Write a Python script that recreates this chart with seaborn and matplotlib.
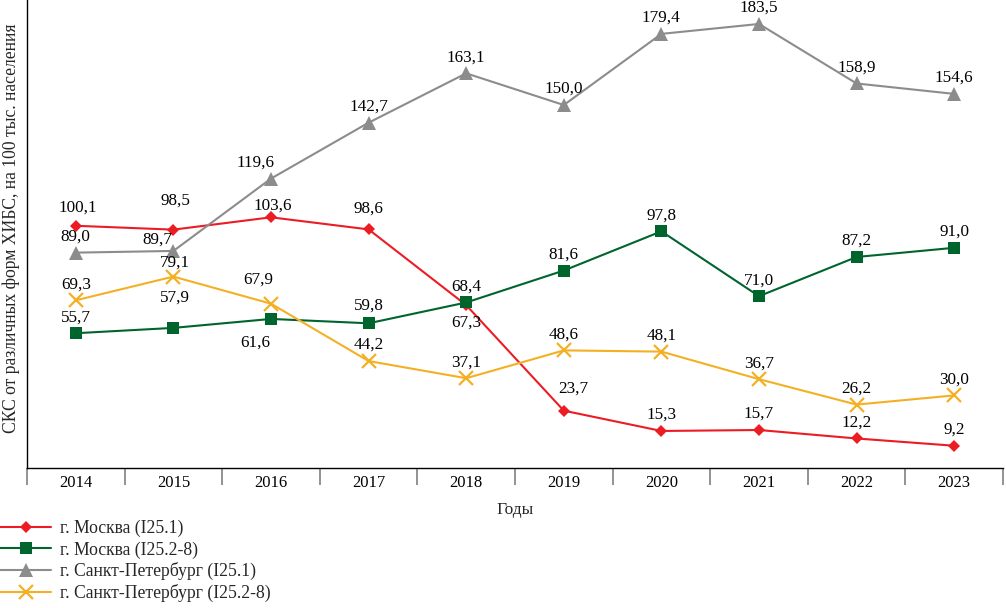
import matplotlib
matplotlib.use("Agg")
import matplotlib.pyplot as plt
import seaborn as sns
import pandas as pd
import numpy as np

years = ["2014", "2015", "2016", "2017", "2018", "2019", "2020", "2021", "2022", "2023"]
series_names = ["г. Москва (I25.1)", "г. Москва (I25.2-8)",
                "г. Санкт-Петербург (I25.1)", "г. Санкт-Петербург (I25.2-8)"]
msk_i251 = [100.1, 98.5, 103.6, 98.6, 67.3, 23.7, 15.3, 15.7, 12.2, 9.2]
msk_i252 = [55.7, 57.9, 61.6, 59.8, 68.4, 81.6, 97.8, 71.0, 87.2, 91.0]
spb_i251 = [89.0, 89.7, 119.6, 142.7, 163.1, 150.0, 179.4, 183.5, 158.9, 154.6]
spb_i252 = [69.3, 79.1, 67.9, 44.2, 37.1, 48.6, 48.1, 36.7, 26.2, 30.0]
all_values = [msk_i251, msk_i252, spb_i251, spb_i252]

colors = ["#EC1C24", "#00642D", "#8C8C8C", "#F4B024"]
markers = ["D", "s", "^", "x"]
msizes = [5.8, 8.5, 9.8, 9.5]

# label offsets in pixels (dx, dy; dy positive = down) where they differ from default
default_off = (0, -16)
special_off = {
    (0, 0): (2, -18), (0, 1): (2, -29), (0, 2): (2, -12), (0, 3): (0, -21),
    (0, 4): (0, 17), (0, 5): (10, -22),
    (1, 1): (2, -30), (1, 2): (-16, 24), (1, 3): (0, -18),
    (2, 1): (-16, -11), (2, 2): (-15, -16),
    (3, 1): (2, -14), (3, 2): (-13, -24),
}

rows = []
for name, vals in zip(series_names, all_values):
    for i, v in enumerate(vals):
        rows.append({"series": name, "pos": i, "year": years[i], "value": v})
df = pd.DataFrame(rows)

sns.set_theme(style="white")
plt.rcParams["font.family"] = ["Liberation Serif", "DejaVu Serif"]

DPI = 100
fig = plt.figure(figsize=(10.06, 6.08), dpi=DPI)
ax = fig.add_axes([27 / 1006, 1 - 468 / 608, 976 / 1006, 468 / 608])

for k, name in enumerate(series_names):
    sub = df[df["series"] == name]
    sns.lineplot(data=sub, x="pos", y="value", ax=ax, color=colors[k],
                 marker=markers[k], markersize=msizes[k], linewidth=1.5,
                 markeredgewidth=1.6 if markers[k] == "x" else 0,
                 markeredgecolor=colors[k], label=name, legend=False)

px2pt = 72 / DPI
for k, vals in enumerate(all_values):
    for i, v in enumerate(vals):
        dx, dy = special_off.get((k, i), default_off)
        ax.annotate(f"{v:.1f}".replace(".", ","), (i, v),
                    xytext=(dx * px2pt, -dy * px2pt), textcoords="offset points",
                    ha="center", va="center", fontsize=12.3, color="black")

ax.set_xlim(-0.5, 9.5)
ax.set_ylim(0, 193.4)
ax.set_xticks(range(len(years)))
ax.set_xticklabels(years, fontsize=12)
ax.set_xticks(np.arange(-0.5, 10, 1), minor=True)
ax.tick_params(axis="x", which="major", length=0, pad=5, colors="black")
ax.tick_params(axis="x", which="minor", length=12.5, width=1.2, color="#808080",
               direction="out", bottom=True)
ax.set_yticks([])
ax.set_xlabel("Годы", fontsize=12.5, labelpad=8)
ax.set_ylabel("СКС от различных форм ХИБС, на 100 тыс. населения", fontsize=12.7)
ax.yaxis.set_label_coords(-6.5 / 976, (468 - 228) / 468)

for s in ["top", "right"]:
    ax.spines[s].set_visible(False)
for s in ["left", "bottom"]:
    ax.spines[s].set_color("black")
    ax.spines[s].set_linewidth(1.0)

handles, labels = ax.get_legend_handles_labels()
fig.legend(handles, labels, loc="upper left", bbox_to_anchor=(0, 1 - 520 / 608),
           frameon=False, fontsize=12.7, handlelength=2.9, handletextpad=0.5,
           labelspacing=0.22, borderpad=0, borderaxespad=0)

fig.savefig("out.png", dpi=DPI)
